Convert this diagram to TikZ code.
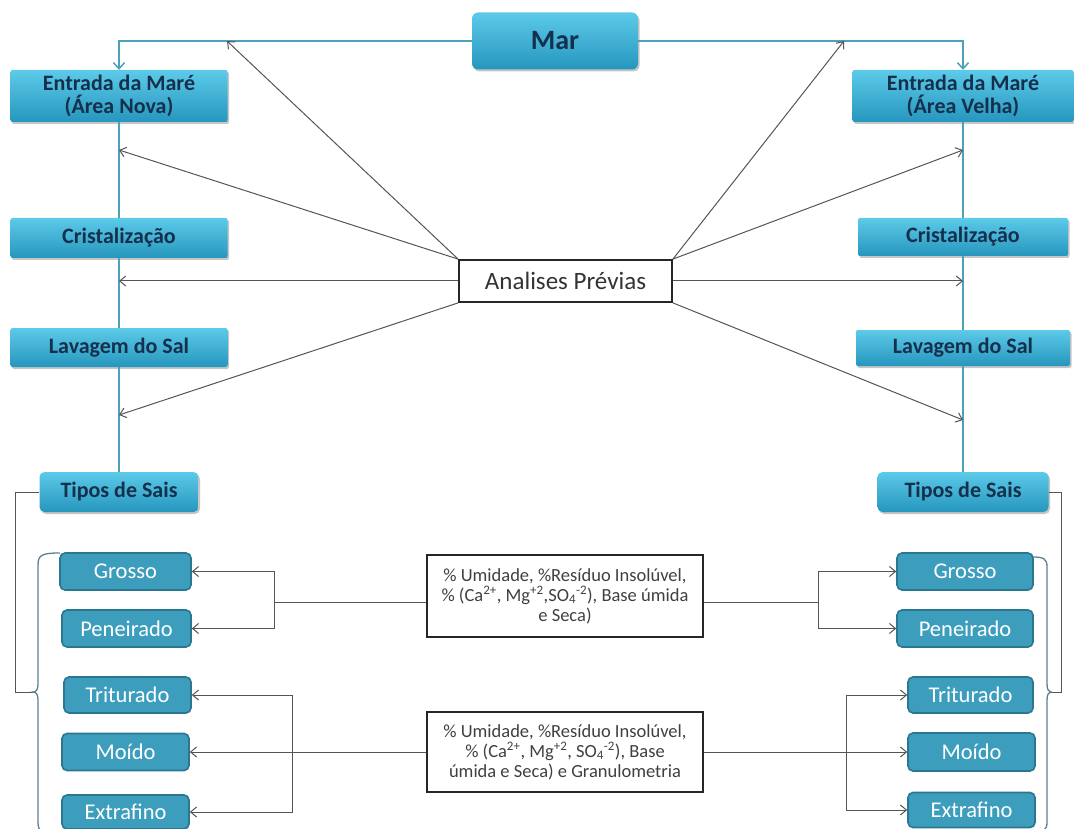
\documentclass[tikz,border=0pt]{standalone}
\usepackage{fontspec}
\setmainfont{Carlito}
\usetikzlibrary{arrows.meta,shadows,calc}
\definecolor{boxtop}{HTML}{5CCAE8}
\definecolor{boxbot}{HTML}{2696BE}
\definecolor{navytext}{HTML}{15304C}
\definecolor{smallfill}{HTML}{3C9DBD}
\definecolor{smallborder}{HTML}{2B7691}
\definecolor{tealline}{HTML}{4AA3BB}
\definecolor{arrowgray}{HTML}{555555}
\definecolor{bracecol}{HTML}{5E7F92}
\begin{document}
\begin{tikzpicture}[x=1pt,y=-1pt,
  bigbox/.style={rounded corners=2pt, top color=boxtop, bottom color=boxbot, draw=none,
    drop shadow={shadow xshift=1.5pt, shadow yshift=-2pt, opacity=0.45},
    text=navytext, font=\bfseries\fontsize{22}{23}\selectfont, align=center, inner sep=0pt},
  smallbox/.style={draw=smallborder, line width=1.6pt, fill=smallfill, rounded corners=5pt,
    text=white, font=\fontsize{22.5}{23}\selectfont, inner sep=0pt},
  cbox/.style={draw=black!85, line width=1.8pt, fill=white, text=black!75,
    font=\fontsize{18.5}{20}\selectfont, align=center, inner sep=0pt},
  tline/.style={draw=tealline, line width=1.8pt},
  tarr/.style={tline, -{Straight Barb[length=6pt,width=11pt,line width=1.5pt]}},
  gline/.style={draw=arrowgray, line width=1pt},
  garr/.style={gline, -{Straight Barb[length=6pt,width=10pt]}},
  bline/.style={draw=bracecol, line width=1.3pt}
]
\useasboundingbox (0,0) rectangle (1074,829);
\clip (0,0) rectangle (1074,829);

% main blue boxes
\node[bigbox, rounded corners=6pt, minimum width=166pt, minimum height=57pt, font=\bfseries\fontsize{28}{30}\selectfont] (Mar) at (555,41) {Mar};
\node[bigbox, minimum width=217pt, minimum height=52pt] (EntL) at (119,96) {Entrada da Maré\\(Área Nova)};
\node[bigbox, minimum width=217pt, minimum height=40pt] (CriL) at (119,238) {Cristalização};
\node[bigbox, minimum width=217pt, minimum height=39pt] (LavL) at (119,347.5) {Lavagem do Sal};
\node[bigbox, rounded corners=5pt, minimum width=159pt, minimum height=40pt] (TipL) at (119,492) {Tipos de Sais};
\node[bigbox, minimum width=221pt, minimum height=52pt] (EntR) at (963,96) {Entrada da Maré\\(Área Velha)};
\node[bigbox, minimum width=210pt, minimum height=38pt] (CriR) at (963,237) {Cristalização};
\node[bigbox, minimum width=214pt, minimum height=36pt] (LavR) at (963,348) {Lavagem do Sal};
\node[bigbox, rounded corners=5pt, minimum width=171pt, minimum height=40pt] (TipR) at (963,492) {Tipos de Sais};

% Analises box
\node[cbox, font=\fontsize{25}{27}\selectfont, text=black!80, minimum width=213pt, minimum height=42pt] (AP) at (565.5,281) {Analises Prévias};

% centre boxes
\node[cbox, minimum width=276pt, minimum height=82pt] (B1) at (565,596)
  {\% Umidade, \%Resíduo Insolúvel,\\ \% (Ca\textsuperscript{2+}, Mg\textsuperscript{+2},SO\textsubscript{4}\textsuperscript{-2}), Base úmida\\ e Seca)};
\node[cbox, minimum width=276pt, minimum height=80pt] (B2) at (565,752)
  {\% Umidade, \%Resíduo Insolúvel,\\ \% (Ca\textsuperscript{2+}, Mg\textsuperscript{+2}, SO\textsubscript{4}\textsuperscript{-2}), Base\\ úmida e Seca) e Granulometria};

% small boxes left
\node[smallbox, minimum width=131pt, minimum height=37pt] (GrL) at (125.5,571.5) {Grosso};
\node[smallbox, minimum width=129pt, minimum height=37pt] (PeL) at (126.5,628.5) {Peneirado};
\node[smallbox, minimum width=127pt, minimum height=36pt] (TrL) at (127.5,695) {Triturado};
\node[smallbox, minimum width=127pt, minimum height=37pt] (MoL) at (125.5,752) {Moído};
\node[smallbox, minimum width=127pt, minimum height=34pt] (ExL) at (125.5,812) {Extrafino};
% small boxes right
\node[smallbox, minimum width=136pt, minimum height=37pt] (GrR) at (965,571.5) {Grosso};
\node[smallbox, minimum width=136pt, minimum height=37pt] (PeR) at (965,628.5) {Peneirado};
\node[smallbox, minimum width=125pt, minimum height=36pt] (TrR) at (970.5,695) {Triturado};
\node[smallbox, minimum width=127pt, minimum height=38pt] (MoR) at (971.5,752) {Moído};
\node[smallbox, minimum width=127pt, minimum height=35pt] (ExR) at (971.5,810) {Extrafino};

% teal flow lines
\draw[tarr] (Mar.west) -| (EntL.north);
\draw[tarr] (Mar.east) -| (EntR.north);
\draw[tline] (EntL.south) -- (CriL.north);
\draw[tline] (CriL.south) -- (LavL.north);
\draw[tline] (LavL.south) -- (TipL.north);
\draw[tline] (EntR.south) -- (CriR.north);
\draw[tline] (CriR.south) -- (LavR.north);
\draw[tline] (LavR.south) -- (TipR.north);

% arrows from Analises Previas
\coordinate (tL1) at (227,41);
\coordinate (tL2) at (119,150);
\coordinate (tL4) at (119,415);
\coordinate (tR1) at (844,41);
\coordinate (tR2) at (963,150);
\coordinate (tR4) at (963,420);
\draw[garr] (AP.north west) -- (tL1);
\draw[garr] (AP.north west) -- (tL2);
\draw[garr] (AP.west) -- (AP.west -| EntL.center);
\draw[garr] (AP.south west) -- (tL4);
\draw[garr] (AP.north east) -- (tR1);
\draw[garr] (AP.north east) -- (tR2);
\draw[garr] (AP.east) -- (AP.east -| EntR.center);
\draw[garr] (AP.south east) -- (tR4);

% bottom analysis arrows
\coordinate (jL1) at (274,602);
\coordinate (jR1) at (818,602);
\draw[gline] ([yshift=-6pt]B1.west) -- (jL1);
\draw[garr] (jL1) |- (GrL.east);
\draw[garr] (jL1) |- (PeL.east);
\draw[gline] ([yshift=-6pt]B1.east) -- (jR1);
\draw[garr] (jR1) |- (GrR.west);
\draw[garr] (jR1) |- (PeR.west);

\coordinate (jL2) at (292,752);
\coordinate (jR2) at (846,752);
\draw[garr] (B2.west) -- (MoL.east);
\draw[garr] (jL2) |- (TrL.east);
\draw[garr] (jL2) |- (ExL.east);
\draw[garr] (B2.east) -- (MoR.west);
\draw[garr] (jR2) |- (TrR.west);
\draw[garr] (jR2) |- (ExR.west);

% braces
\coordinate (bL) at (33,692);
\coordinate (bR) at (1051,692);
\draw[gline] (TipL.west) -| (15,692) -- (bL);
\draw[gline] (TipR.east) -| (1061,692) -- (bR);
\draw[bline] (60,553) .. controls (42,553) and (38,555) .. (38,565) -- (38,684)
  .. controls (38,690) and (36,692) .. (bL) .. controls (36,692) and (38,694) .. (38,700)
  -- (38,822) .. controls (38,832) and (42,834) .. (60,834);
\draw[bline] (1033,557) .. controls (1044,557) and (1047,559) .. (1047,567) -- (1047,684)
  .. controls (1047,690) and (1049,692) .. (bR) .. controls (1049,692) and (1047,694) .. (1047,700)
  -- (1047,822) .. controls (1047,830) and (1044,832) .. (1033,832);
\end{tikzpicture}
\end{document}
